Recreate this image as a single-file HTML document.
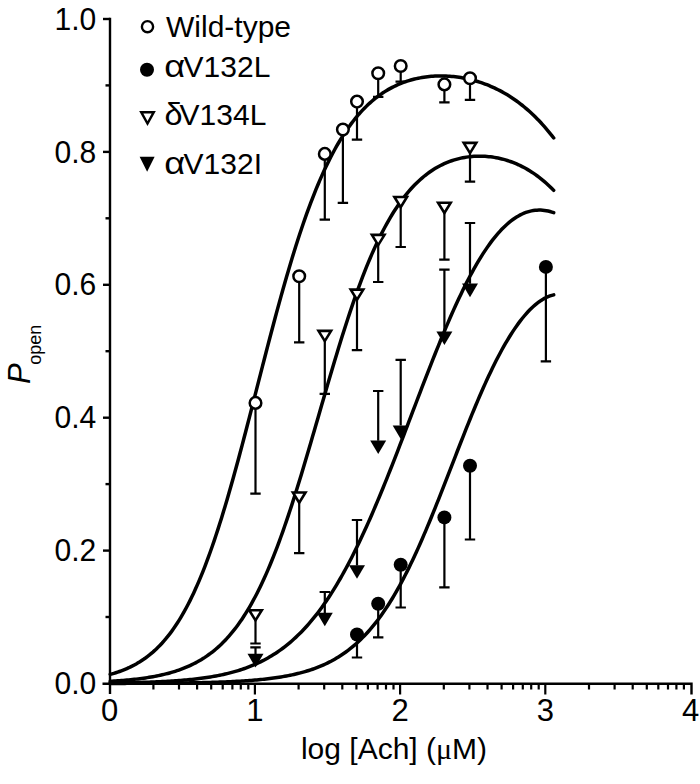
<!DOCTYPE html><html><head><meta charset="utf-8"><style>html,body{margin:0;padding:0;background:#fff;}svg{display:block;}text{font-family:"Liberation Sans",sans-serif;fill:#000;}</style></head><body>
<svg width="700" height="784" viewBox="0 0 700 784">
<rect width="700" height="784" fill="#fff"/>
<g stroke="#000" stroke-width="2.4" fill="none" stroke-linecap="butt">
<path d="M110 17.8 V694"/>
<path d="M102.5 683.8 H691.5 V694.5"/>
<path d="M103 550.6 H110"/>
<path d="M103 417.7 H110"/>
<path d="M103 284.8 H110"/>
<path d="M103 151.9 H110"/>
<path d="M103 19.0 H110"/>
<path d="M105.5 617.0 H110"/>
<path d="M105.5 484.1 H110"/>
<path d="M105.5 351.2 H110"/>
<path d="M105.5 218.3 H110"/>
<path d="M105.5 85.4 H110"/>
</g><g stroke="#000" stroke-width="2.2" fill="none">
<path d="M153.4 684 V689.5"/>
<path d="M179.0 684 V689.5"/>
<path d="M197.1 684 V689.5"/>
<path d="M211.2 684 V689.5"/>
<path d="M222.7 684 V689.5"/>
<path d="M232.4 684 V689.5"/>
<path d="M240.8 684 V689.5"/>
<path d="M248.3 684 V689.5"/>
<path d="M298.6 684 V689.5"/>
<path d="M324.2 684 V689.5"/>
<path d="M342.3 684 V689.5"/>
<path d="M356.4 684 V689.5"/>
<path d="M367.9 684 V689.5"/>
<path d="M377.6 684 V689.5"/>
<path d="M386.0 684 V689.5"/>
<path d="M393.5 684 V689.5"/>
<path d="M254.9 684 V694.5"/>
<path d="M443.8 684 V689.5"/>
<path d="M469.4 684 V689.5"/>
<path d="M487.5 684 V689.5"/>
<path d="M501.6 684 V689.5"/>
<path d="M513.1 684 V689.5"/>
<path d="M522.8 684 V689.5"/>
<path d="M531.2 684 V689.5"/>
<path d="M538.7 684 V689.5"/>
<path d="M400.1 684 V694.5"/>
<path d="M589.0 684 V689.5"/>
<path d="M614.6 684 V689.5"/>
<path d="M632.7 684 V689.5"/>
<path d="M646.8 684 V689.5"/>
<path d="M658.3 684 V689.5"/>
<path d="M668.0 684 V689.5"/>
<path d="M676.4 684 V689.5"/>
<path d="M683.9 684 V689.5"/>
<path d="M545.3 684 V694.5"/>
</g>
<text transform="translate(96.2,694.1) scale(0.97,1)" font-size="31" text-anchor="end">0.0</text>
<text transform="translate(96.2,561.2) scale(0.97,1)" font-size="31" text-anchor="end">0.2</text>
<text transform="translate(96.2,428.3) scale(0.97,1)" font-size="31" text-anchor="end">0.4</text>
<text transform="translate(96.2,295.4) scale(0.97,1)" font-size="31" text-anchor="end">0.6</text>
<text transform="translate(96.2,162.5) scale(0.97,1)" font-size="31" text-anchor="end">0.8</text>
<text transform="translate(96.2,29.6) scale(0.97,1)" font-size="31" text-anchor="end">1.0</text>
<text x="109.7" y="720.8" font-size="31" text-anchor="middle">0</text>
<text x="254.9" y="720.8" font-size="31" text-anchor="middle">1</text>
<text x="400.1" y="720.8" font-size="31" text-anchor="middle">2</text>
<text x="545.3" y="720.8" font-size="31" text-anchor="middle">3</text>
<text x="690.5" y="720.8" font-size="31" text-anchor="middle">4</text>
<text x="394" y="758.5" font-size="30" text-anchor="middle">log [Ach] (<tspan font-family="Liberation Serif">&#956;</tspan>M)</text>
<g transform="translate(30.4,384) rotate(-90)"><text x="0" y="0" font-size="31" font-style="italic">P</text><text x="19.3" y="10.8" font-size="18">open</text></g>
<g stroke="#000" stroke-width="3.5" fill="none" stroke-linecap="round">
<polyline points="110.21,674.37 112.06,673.85 113.92,673.31 115.78,672.73 117.63,672.12 119.49,671.48 121.34,670.80 123.20,670.09 125.05,669.34 126.91,668.54 128.77,667.71 130.62,666.83 132.48,665.91 134.33,664.94 136.19,663.92 138.04,662.85 139.90,661.72 141.76,660.53 143.61,659.29 145.47,657.98 147.32,656.61 149.18,655.17 151.03,653.66 152.89,652.08 154.75,650.42 156.60,648.68 158.46,646.87 160.31,644.96 162.17,642.97 164.02,640.89 165.88,638.72 167.74,636.44 169.59,634.07 171.45,631.60 173.30,629.02 175.16,626.33 177.01,623.53 178.87,620.62 180.72,617.59 182.58,614.44 184.44,611.17 186.29,607.77 188.15,604.25 190.00,600.59 191.86,596.81 193.71,592.90 195.57,588.85 197.43,584.66 199.28,580.34 201.14,575.88 202.99,571.29 204.85,566.56 206.70,561.68 208.56,556.68 210.42,551.53 212.27,546.26 214.13,540.84 215.98,535.30 217.84,529.63 219.69,523.83 221.55,517.91 223.41,511.86 225.26,505.70 227.12,499.43 228.97,493.05 230.83,486.57 232.68,479.99 234.54,473.32 236.40,466.56 238.25,459.72 240.11,452.81 241.96,445.83 243.82,438.79 245.67,431.69 247.53,424.55 249.39,417.38 251.24,410.17 253.10,402.93 254.95,395.68 256.81,388.43 258.66,381.17 260.52,373.92 262.38,366.68 264.23,359.46 266.09,352.28 267.94,345.13 269.80,338.02 271.65,330.96 273.51,323.96 275.37,317.02 277.22,310.15 279.08,303.35 280.93,296.63 282.79,290.00 284.64,283.45 286.50,277.00 288.36,270.65 290.21,264.40 292.07,258.26 293.92,252.22 295.78,246.29 297.63,240.48 299.49,234.79 301.35,229.21 303.20,223.75 305.06,218.41 306.91,213.20 308.77,208.10 310.62,203.13 312.48,198.28 314.34,193.56 316.19,188.96 318.05,184.48 319.90,180.12 321.76,175.89 323.61,171.77 325.47,167.77 327.33,163.90 329.18,160.13 331.04,156.48 332.89,152.95 334.75,149.52 336.60,146.21 338.46,143.00 340.32,139.90 342.17,136.90 344.03,134.00 345.88,131.21 347.74,128.51 349.59,125.90 351.45,123.39 353.31,120.97 355.16,118.63 357.02,116.39 358.87,114.22 360.73,112.14 362.58,110.14 364.44,108.22 366.30,106.37 368.15,104.60 370.01,102.89 371.86,101.26 373.72,99.70 375.57,98.20 377.43,96.76 379.29,95.39 381.14,94.08 383.00,92.82 384.85,91.62 386.71,90.48 388.56,89.39 390.42,88.36 392.28,87.37 394.13,86.44 395.99,85.55 397.84,84.71 399.70,83.92 401.55,83.17 403.41,82.46 405.27,81.79 407.12,81.17 408.98,80.58 410.83,80.04 412.69,79.53 414.54,79.06 416.40,78.62 418.26,78.22 420.11,77.86 421.97,77.53 423.82,77.23 425.68,76.96 427.53,76.73 429.39,76.53 431.25,76.36 433.10,76.22 434.96,76.11 436.81,76.03 438.67,75.98 440.52,75.96 442.38,75.97 444.24,76.00 446.09,76.07 447.95,76.16 449.80,76.28 451.66,76.43 453.51,76.61 455.37,76.82 457.22,77.05 459.08,77.31 460.94,77.60 462.79,77.92 464.65,78.27 466.50,78.64 468.36,79.05 470.21,79.48 472.07,79.94 473.93,80.44 475.78,80.96 477.64,81.51 479.49,82.09 481.35,82.71 483.20,83.36 485.06,84.03 486.92,84.74 488.77,85.49 490.63,86.26 492.48,87.07 494.34,87.92 496.19,88.80 498.05,89.72 499.91,90.67 501.76,91.66 503.62,92.69 505.47,93.76 507.33,94.87 509.18,96.01 511.04,97.20 512.90,98.43 514.75,99.71 516.61,101.03 518.46,102.39 520.32,103.80 522.17,105.25 524.03,106.75 525.89,108.30 527.74,109.90 529.60,111.55 531.45,113.25 533.31,115.00 535.16,116.81 537.02,118.67 538.88,120.58 540.73,122.55 542.59,124.58 544.44,126.66 546.30,128.81 548.15,131.01 550.01,133.28 551.87,135.60 553.72,137.99"/>
<polyline points="110.21,681.31 112.06,681.20 113.92,681.08 115.78,680.96 117.63,680.83 119.49,680.69 121.34,680.55 123.20,680.40 125.05,680.25 126.91,680.08 128.77,679.91 130.62,679.73 132.48,679.54 134.33,679.34 136.19,679.13 138.04,678.91 139.90,678.67 141.76,678.43 143.61,678.17 145.47,677.91 147.32,677.63 149.18,677.33 151.03,677.02 152.89,676.70 154.75,676.35 156.60,676.00 158.46,675.62 160.31,675.23 162.17,674.81 164.02,674.38 165.88,673.92 167.74,673.45 169.59,672.95 171.45,672.42 173.30,671.87 175.16,671.30 177.01,670.69 178.87,670.06 180.72,669.40 182.58,668.71 184.44,667.98 186.29,667.22 188.15,666.42 190.00,665.58 191.86,664.71 193.71,663.80 195.57,662.84 197.43,661.84 199.28,660.79 201.14,659.70 202.99,658.55 204.85,657.36 206.70,656.11 208.56,654.80 210.42,653.44 212.27,652.01 214.13,650.52 215.98,648.97 217.84,647.36 219.69,645.67 221.55,643.91 223.41,642.08 225.26,640.17 227.12,638.18 228.97,636.11 230.83,633.95 232.68,631.71 234.54,629.39 236.40,626.97 238.25,624.45 240.11,621.84 241.96,619.14 243.82,616.33 245.67,613.42 247.53,610.40 249.39,607.28 251.24,604.05 253.10,600.71 254.95,597.26 256.81,593.69 258.66,590.01 260.52,586.21 262.38,582.30 264.23,578.27 266.09,574.12 267.94,569.86 269.80,565.48 271.65,560.97 273.51,556.36 275.37,551.62 277.22,546.77 279.08,541.81 280.93,536.74 282.79,531.56 284.64,526.27 286.50,520.87 288.36,515.38 290.21,509.79 292.07,504.11 293.92,498.34 295.78,492.48 297.63,486.54 299.49,480.53 301.35,474.45 303.20,468.31 305.06,462.11 306.91,455.86 308.77,449.56 310.62,443.23 312.48,436.86 314.34,430.47 316.19,424.06 318.05,417.64 319.90,411.22 321.76,404.80 323.61,398.39 325.47,392.00 327.33,385.63 329.18,379.29 331.04,372.99 332.89,366.73 334.75,360.53 336.60,354.38 338.46,348.29 340.32,342.27 342.17,336.32 344.03,330.45 345.88,324.66 347.74,318.96 349.59,313.35 351.45,307.83 353.31,302.42 355.16,297.10 357.02,291.89 358.87,286.79 360.73,281.79 362.58,276.90 364.44,272.13 366.30,267.47 368.15,262.93 370.01,258.50 371.86,254.18 373.72,249.99 375.57,245.90 377.43,241.94 379.29,238.08 381.14,234.35 383.00,230.72 384.85,227.21 386.71,223.81 388.56,220.52 390.42,217.34 392.28,214.26 394.13,211.30 395.99,208.43 397.84,205.66 399.70,203.00 401.55,200.43 403.41,197.96 405.27,195.58 407.12,193.30 408.98,191.10 410.83,188.99 412.69,186.97 414.54,185.03 416.40,183.17 418.26,181.39 420.11,179.69 421.97,178.06 423.82,176.50 425.68,175.02 427.53,173.61 429.39,172.26 431.25,170.98 433.10,169.76 434.96,168.61 436.81,167.51 438.67,166.48 440.52,165.50 442.38,164.58 444.24,163.71 446.09,162.90 447.95,162.14 449.80,161.43 451.66,160.77 453.51,160.15 455.37,159.59 457.22,159.07 459.08,158.59 460.94,158.16 462.79,157.78 464.65,157.43 466.50,157.13 468.36,156.87 470.21,156.65 472.07,156.48 473.93,156.34 475.78,156.24 477.64,156.18 479.49,156.16 481.35,156.18 483.20,156.24 485.06,156.33 486.92,156.47 488.77,156.64 490.63,156.85 492.48,157.10 494.34,157.38 496.19,157.71 498.05,158.08 499.91,158.48 501.76,158.93 503.62,159.41 505.47,159.93 507.33,160.50 509.18,161.11 511.04,161.76 512.90,162.45 514.75,163.19 516.61,163.97 518.46,164.79 520.32,165.67 522.17,166.58 524.03,167.55 525.89,168.56 527.74,169.63 529.60,170.74 531.45,171.91 533.31,173.13 535.16,174.40 537.02,175.73 538.88,177.12 540.73,178.56 542.59,180.06 544.44,181.62 546.30,183.24 548.15,184.93 550.01,186.67 551.87,188.49 553.72,190.37"/>
<polyline points="110.21,683.03 112.06,683.00 113.92,682.98 115.78,682.95 117.63,682.92 119.49,682.89 121.34,682.86 123.20,682.83 125.05,682.79 126.91,682.75 128.77,682.72 130.62,682.68 132.48,682.63 134.33,682.59 136.19,682.54 138.04,682.49 139.90,682.44 141.76,682.39 143.61,682.33 145.47,682.27 147.32,682.21 149.18,682.15 151.03,682.08 152.89,682.01 154.75,681.93 156.60,681.85 158.46,681.77 160.31,681.68 162.17,681.59 164.02,681.50 165.88,681.40 167.74,681.29 169.59,681.18 171.45,681.07 173.30,680.95 175.16,680.82 177.01,680.69 178.87,680.55 180.72,680.40 182.58,680.25 184.44,680.09 186.29,679.93 188.15,679.75 190.00,679.57 191.86,679.38 193.71,679.18 195.57,678.97 197.43,678.75 199.28,678.52 201.14,678.29 202.99,678.04 204.85,677.78 206.70,677.50 208.56,677.22 210.42,676.92 212.27,676.61 214.13,676.29 215.98,675.95 217.84,675.60 219.69,675.23 221.55,674.84 223.41,674.44 225.26,674.02 227.12,673.59 228.97,673.13 230.83,672.66 232.68,672.16 234.54,671.65 236.40,671.11 238.25,670.55 240.11,669.97 241.96,669.37 243.82,668.74 245.67,668.08 247.53,667.40 249.39,666.69 251.24,665.96 253.10,665.19 254.95,664.40 256.81,663.57 258.66,662.71 260.52,661.82 262.38,660.90 264.23,659.94 266.09,658.95 267.94,657.92 269.80,656.85 271.65,655.74 273.51,654.60 275.37,653.41 277.22,652.18 279.08,650.91 280.93,649.59 282.79,648.23 284.64,646.82 286.50,645.37 288.36,643.87 290.21,642.32 292.07,640.71 293.92,639.06 295.78,637.35 297.63,635.60 299.49,633.78 301.35,631.91 303.20,629.99 305.06,628.00 306.91,625.96 308.77,623.86 310.62,621.71 312.48,619.49 314.34,617.20 316.19,614.86 318.05,612.45 319.90,609.98 321.76,607.45 323.61,604.85 325.47,602.19 327.33,599.46 329.18,596.67 331.04,593.81 332.89,590.88 334.75,587.88 336.60,584.82 338.46,581.70 340.32,578.50 342.17,575.24 344.03,571.92 345.88,568.52 347.74,565.06 349.59,561.54 351.45,557.95 353.31,554.30 355.16,550.58 357.02,546.80 358.87,542.96 360.73,539.06 362.58,535.10 364.44,531.08 366.30,527.00 368.15,522.87 370.01,518.68 371.86,514.44 373.72,510.15 375.57,505.80 377.43,501.41 379.29,496.97 381.14,492.49 383.00,487.97 384.85,483.40 386.71,478.80 388.56,474.16 390.42,469.49 392.28,464.79 394.13,460.06 395.99,455.30 397.84,450.52 399.70,445.71 401.55,440.89 403.41,436.06 405.27,431.21 407.12,426.35 408.98,421.48 410.83,416.61 412.69,411.74 414.54,406.87 416.40,402.00 418.26,397.15 420.11,392.30 421.97,387.46 423.82,382.65 425.68,377.85 427.53,373.07 429.39,368.32 431.25,363.60 433.10,358.90 434.96,354.25 436.81,349.63 438.67,345.04 440.52,340.51 442.38,336.01 444.24,331.57 446.09,327.17 447.95,322.83 449.80,318.54 451.66,314.32 453.51,310.15 455.37,306.04 457.22,302.01 459.08,298.03 460.94,294.13 462.79,290.30 464.65,286.55 466.50,282.87 468.36,279.26 470.21,275.74 472.07,272.30 473.93,268.94 475.78,265.66 477.64,262.47 479.49,259.37 481.35,256.36 483.20,253.43 485.06,250.60 486.92,247.86 488.77,245.21 490.63,242.65 492.48,240.19 494.34,237.83 496.19,235.56 498.05,233.38 499.91,231.30 501.76,229.32 503.62,227.44 505.47,225.66 507.33,223.97 509.18,222.38 511.04,220.89 512.90,219.49 514.75,218.20 516.61,217.00 518.46,215.90 520.32,214.90 522.17,213.99 524.03,213.18 525.89,212.46 527.74,211.84 529.60,211.32 531.45,210.88 533.31,210.54 535.16,210.30 537.02,210.14 538.88,210.08 540.73,210.10 542.59,210.21 544.44,210.42 546.30,210.70 548.15,211.08 550.01,211.53 551.87,212.07 553.72,212.70"/>
<polyline points="110.21,683.42 112.06,683.41 113.92,683.41 115.78,683.40 117.63,683.40 119.49,683.39 121.34,683.39 123.20,683.38 125.05,683.38 126.91,683.37 128.77,683.36 130.62,683.36 132.48,683.35 134.33,683.34 136.19,683.34 138.04,683.33 139.90,683.32 141.76,683.31 143.61,683.30 145.47,683.29 147.32,683.28 149.18,683.27 151.03,683.26 152.89,683.25 154.75,683.24 156.60,683.22 158.46,683.21 160.31,683.19 162.17,683.18 164.02,683.16 165.88,683.15 167.74,683.13 169.59,683.11 171.45,683.09 173.30,683.07 175.16,683.05 177.01,683.03 178.87,683.01 180.72,682.98 182.58,682.96 184.44,682.93 186.29,682.91 188.15,682.88 190.00,682.85 191.86,682.81 193.71,682.78 195.57,682.75 197.43,682.71 199.28,682.67 201.14,682.63 202.99,682.59 204.85,682.55 206.70,682.50 208.56,682.45 210.42,682.40 212.27,682.35 214.13,682.29 215.98,682.23 217.84,682.17 219.69,682.11 221.55,682.04 223.41,681.97 225.26,681.89 227.12,681.81 228.97,681.73 230.83,681.65 232.68,681.56 234.54,681.46 236.40,681.37 238.25,681.26 240.11,681.16 241.96,681.04 243.82,680.92 245.67,680.80 247.53,680.67 249.39,680.53 251.24,680.39 253.10,680.24 254.95,680.09 256.81,679.92 258.66,679.75 260.52,679.57 262.38,679.38 264.23,679.19 266.09,678.98 267.94,678.76 269.80,678.54 271.65,678.30 273.51,678.05 275.37,677.79 277.22,677.52 279.08,677.24 280.93,676.94 282.79,676.63 284.64,676.31 286.50,675.97 288.36,675.61 290.21,675.24 292.07,674.85 293.92,674.44 295.78,674.02 297.63,673.57 299.49,673.11 301.35,672.62 303.20,672.12 305.06,671.59 306.91,671.03 308.77,670.46 310.62,669.85 312.48,669.22 314.34,668.57 316.19,667.88 318.05,667.16 319.90,666.42 321.76,665.64 323.61,664.82 325.47,663.98 327.33,663.09 329.18,662.17 331.04,661.22 332.89,660.22 334.75,659.18 336.60,658.10 338.46,656.97 340.32,655.80 342.17,654.58 344.03,653.31 345.88,651.99 347.74,650.62 349.59,649.20 351.45,647.72 353.31,646.19 355.16,644.60 357.02,642.95 358.87,641.24 360.73,639.46 362.58,637.63 364.44,635.72 366.30,633.75 368.15,631.72 370.01,629.61 371.86,627.43 373.72,625.18 375.57,622.86 377.43,620.46 379.29,617.98 381.14,615.43 383.00,612.80 384.85,610.10 386.71,607.31 388.56,604.45 390.42,601.50 392.28,598.48 394.13,595.37 395.99,592.18 397.84,588.91 399.70,585.57 401.55,582.14 403.41,578.63 405.27,575.05 407.12,571.38 408.98,567.64 410.83,563.83 412.69,559.94 414.54,555.98 416.40,551.95 418.26,547.85 420.11,543.69 421.97,539.46 423.82,535.17 425.68,530.82 427.53,526.42 429.39,521.97 431.25,517.47 433.10,512.92 434.96,508.33 436.81,503.71 438.67,499.05 440.52,494.36 442.38,489.64 444.24,484.90 446.09,480.15 447.95,475.38 449.80,470.61 451.66,465.83 453.51,461.04 455.37,456.27 457.22,451.50 459.08,446.75 460.94,442.01 462.79,437.30 464.65,432.61 466.50,427.95 468.36,423.33 470.21,418.74 472.07,414.20 473.93,409.71 475.78,405.26 477.64,400.87 479.49,396.53 481.35,392.26 483.20,388.05 485.06,383.90 486.92,379.83 488.77,375.82 490.63,371.90 492.48,368.04 494.34,364.27 496.19,360.58 498.05,356.98 499.91,353.46 501.76,350.03 503.62,346.69 505.47,343.44 507.33,340.28 509.18,337.22 511.04,334.25 512.90,331.38 514.75,328.60 516.61,325.93 518.46,323.36 520.32,320.88 522.17,318.51 524.03,316.25 525.89,314.08 527.74,312.03 529.60,310.08 531.45,308.23 533.31,306.49 535.16,304.87 537.02,303.35 538.88,301.95 540.73,300.65 542.59,299.47 544.44,298.41 546.30,297.46 548.15,296.63 550.01,295.92 551.87,295.33 553.72,294.86"/>
</g>
<g stroke="#000" stroke-width="2.2" fill="none">
<path d="M255.5 402.9 V493.7 M250.3 493.7 H260.7"/>
<path d="M299.2 276.3 V342.3 M294.0 342.3 H304.4"/>
<path d="M324.8 153.9 V219.7 M319.6 219.7 H330.0"/>
<path d="M342.9 129.5 V202.8 M337.7 202.8 H348.1"/>
<path d="M357.0 101.6 V139.7 M351.8 139.7 H362.2"/>
<path d="M378.2 73.2 V96.9 M373.0 96.9 H383.4"/>
<path d="M400.7 66.0 V81.6 M395.5 81.6 H405.9"/>
<path d="M444.4 84.4 V102.3 M439.2 102.3 H449.6"/>
<path d="M470.0 78.2 V99.8 M464.8 99.8 H475.2"/>
<path d="M255.5 609.5 V643.5 M250.3 643.5 H260.7"/>
<path d="M299.2 491.8 V553.2 M294.0 553.2 H304.4"/>
<path d="M324.8 330.2 V393.9 M319.6 393.9 H330.0"/>
<path d="M357.0 288.9 V350.2 M351.8 350.2 H362.2"/>
<path d="M378.2 234.2 V282 M373.0 282 H383.4"/>
<path d="M400.7 196.3 V247 M395.5 247 H405.9"/>
<path d="M444.4 202.1 V259.6 M439.2 259.6 H449.6"/>
<path d="M470.0 142.2 V181.7 M464.8 181.7 H475.2"/>
<path d="M255.5 654 V647.4 M250.3 647.4 H260.7"/>
<path d="M324.8 612.9 V592 M319.6 592 H330.0"/>
<path d="M357.0 565.4 V520 M351.8 520 H362.2"/>
<path d="M378.2 440.7 V391 M373.0 391 H383.4"/>
<path d="M400.7 425.6 V359.9 M395.5 359.9 H405.9"/>
<path d="M444.4 331.7 V269.6 M439.2 269.6 H449.6"/>
<path d="M470.0 283.8 V223 M464.8 223 H475.2"/>
<path d="M357.0 634.5 V657.5 M351.8 657.5 H362.2"/>
<path d="M378.2 603.7 V637.4 M373.0 637.4 H383.4"/>
<path d="M400.7 564.7 V607.5 M395.5 607.5 H405.9"/>
<path d="M444.4 517.4 V587.3 M439.2 587.3 H449.6"/>
<path d="M470.0 465.8 V539.5 M464.8 539.5 H475.2"/>
<path d="M545.9 266.9 V361.3 M540.7 361.3 H551.1"/>
</g>
<circle cx="255.5" cy="402.9" r="5.8" fill="#fff" stroke="#000" stroke-width="2.5"/>
<circle cx="299.2" cy="276.3" r="5.8" fill="#fff" stroke="#000" stroke-width="2.5"/>
<circle cx="324.8" cy="153.9" r="5.8" fill="#fff" stroke="#000" stroke-width="2.5"/>
<circle cx="342.9" cy="129.5" r="5.8" fill="#fff" stroke="#000" stroke-width="2.5"/>
<circle cx="357.0" cy="101.6" r="5.8" fill="#fff" stroke="#000" stroke-width="2.5"/>
<circle cx="378.2" cy="73.2" r="5.8" fill="#fff" stroke="#000" stroke-width="2.5"/>
<circle cx="400.7" cy="66.0" r="5.8" fill="#fff" stroke="#000" stroke-width="2.5"/>
<circle cx="444.4" cy="84.4" r="5.8" fill="#fff" stroke="#000" stroke-width="2.5"/>
<circle cx="470.0" cy="78.2" r="5.8" fill="#fff" stroke="#000" stroke-width="2.5"/>
<path d="M249.2 610.2 H261.8 L255.5 620.4 Z" fill="#fff" stroke="#000" stroke-width="2.6" stroke-linejoin="miter"/>
<path d="M292.9 492.5 H305.5 L299.2 502.7 Z" fill="#fff" stroke="#000" stroke-width="2.6" stroke-linejoin="miter"/>
<path d="M318.5 330.9 H331.1 L324.8 341.1 Z" fill="#fff" stroke="#000" stroke-width="2.6" stroke-linejoin="miter"/>
<path d="M350.7 289.6 H363.3 L357.0 299.8 Z" fill="#fff" stroke="#000" stroke-width="2.6" stroke-linejoin="miter"/>
<path d="M371.9 234.9 H384.5 L378.2 245.1 Z" fill="#fff" stroke="#000" stroke-width="2.6" stroke-linejoin="miter"/>
<path d="M394.4 197.0 H407.0 L400.7 207.2 Z" fill="#fff" stroke="#000" stroke-width="2.6" stroke-linejoin="miter"/>
<path d="M438.1 202.8 H450.7 L444.4 213.0 Z" fill="#fff" stroke="#000" stroke-width="2.6" stroke-linejoin="miter"/>
<path d="M463.7 142.9 H476.3 L470.0 153.1 Z" fill="#fff" stroke="#000" stroke-width="2.6" stroke-linejoin="miter"/>
<path d="M247.5 653.8 H263.5 L255.5 667.4 Z" fill="#000"/>
<path d="M316.8 612.7 H332.8 L324.8 626.3 Z" fill="#000"/>
<path d="M349.0 565.2 H365.0 L357.0 578.8 Z" fill="#000"/>
<path d="M370.2 440.5 H386.2 L378.2 454.1 Z" fill="#000"/>
<path d="M392.7 425.4 H408.7 L400.7 439.0 Z" fill="#000"/>
<path d="M436.4 331.5 H452.4 L444.4 345.1 Z" fill="#000"/>
<path d="M462.0 283.6 H478.0 L470.0 297.2 Z" fill="#000"/>
<circle cx="357.0" cy="634.5" r="7" fill="#000"/>
<circle cx="378.2" cy="603.7" r="7" fill="#000"/>
<circle cx="400.7" cy="564.7" r="7" fill="#000"/>
<circle cx="444.4" cy="517.4" r="7" fill="#000"/>
<circle cx="470.0" cy="465.8" r="7" fill="#000"/>
<circle cx="545.9" cy="266.9" r="7" fill="#000"/>
<circle cx="147.5" cy="26.7" r="5.6" fill="#fff" stroke="#000" stroke-width="2.4"/>
<circle cx="147" cy="69.7" r="7" fill="#000"/>
<path d="M141.2 112.2 H153.8 L147.5 123.5 Z" fill="#fff" stroke="#000" stroke-width="2.4"/>
<path d="M139.6 156.8 H154.6 L147.1 171.8 Z" fill="#000"/>
<text x="166" y="36.8" font-size="30">Wild-type</text>
<text transform="translate(164.2,77.2) scale(1.21,1.07)" font-size="30" font-family="Liberation Serif">&#945;</text>
<text x="183.6" y="77.2" font-size="30">V132L</text>
<text transform="translate(164.5,125) scale(1.08,1.04)" font-size="30" font-family="Liberation Serif">&#948;</text>
<text x="179.6" y="125" font-size="30">V134L</text>
<text transform="translate(164.3,173.6) scale(1.21,1.07)" font-size="30" font-family="Liberation Serif">&#945;</text>
<text x="183.6" y="173.6" font-size="30">V132I</text>
</svg></body></html>
